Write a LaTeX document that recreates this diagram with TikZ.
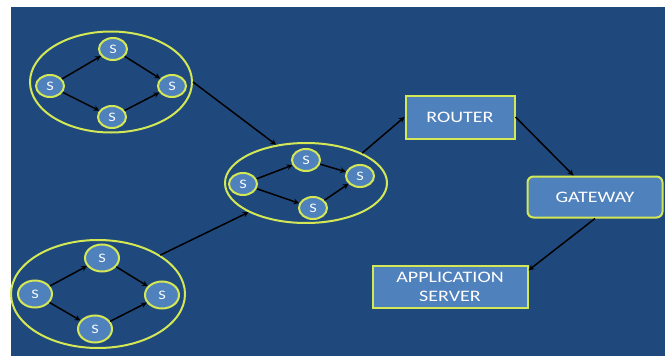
\documentclass[tikz,border=0pt]{standalone}
\usepackage{fontspec}
\setmainfont{Carlito}
\usepackage{graphicx}
\usetikzlibrary{shapes.geometric}
\definecolor{slidebg}{RGB}{31,73,125}
\definecolor{boxfill}{RGB}{79,129,189}
\definecolor{rim}{RGB}{212,232,86}
\newcommand{\wtext}[1]{\scalebox{1.25}[1]{#1}}
\tikzset{
  cluster/.style={ellipse,draw=rim,line width=2pt,inner sep=0pt},
  snode/.style={ellipse,draw=rim,fill=boxfill,line width=2pt,inner sep=0pt,
    minimum width=28pt,minimum height=22pt,text=white,font=\fontsize{13}{13}\selectfont},
  bigs/.style={snode,minimum width=34pt,minimum height=27pt},
  unit/.style={rectangle,draw=rim,fill=boxfill,line width=2pt,text=white,
    font=\fontsize{16}{19}\selectfont,align=center,inner sep=0pt},
  link/.style={->,line width=1.5pt,black},
}

\begin{document}
\begin{tikzpicture}[x=1pt,y=-1pt,>=stealth]
        \fill[white] (0,0) rectangle (670,356);
        \fill[slidebg] (11,7) rectangle (665,356);
        \useasboundingbox (0,0) rectangle (670,356);
        % groups of services
        \node[cluster,minimum width=162pt,minimum height=101pt] (topgrp) at (111,82) {};
        \node[cluster,minimum width=162pt,minimum height=80pt] (midgrp) at (306,183) {};
        \node[cluster,minimum width=174pt,minimum height=108pt] (botgrp) at (98,294) {};
        \node[snode] (top-l) at (50,86) {\wtext{S}};
        \node[snode] (top-u) at (113,49) {\wtext{S}};
        \node[snode] (top-r) at (172,86) {\wtext{S}};
        \node[snode] (top-d) at (112,117) {\wtext{S}};
        \node[snode] (mid-l) at (243,184) {\wtext{S}};
        \node[snode] (mid-u) at (306,160) {\wtext{S}};
        \node[snode] (mid-r) at (360,176) {\wtext{S}};
        \node[snode] (mid-d) at (313,208) {\wtext{S}};
        \node[bigs] (bot-l) at (35,294) {\wtext{S}};
        \node[bigs] (bot-u) at (102,258) {\wtext{S}};
        \node[bigs] (bot-r) at (162,295) {\wtext{S}};
        \node[bigs] (bot-d) at (95,329) {\wtext{S}};
        \foreach \g in {top,mid,bot} {
          \draw[link] (\g-l) -- (\g-u);
          \draw[link] (\g-l) -- (\g-d);
          \draw[link] (\g-u) -- (\g-r);
          \draw[link] (\g-d) -- (\g-r);
        }
        % network side
        \node[unit,minimum width=109pt,minimum height=43pt] (router) at (460,117) {\wtext{ROUTER}};
        \node[unit,rounded corners=6pt,minimum width=135pt,minimum height=41pt] (gateway) at (595,197) {\wtext{GATEWAY}};
        \node[unit,minimum width=155pt,minimum height=42pt] (appserver) at (450,287) {\wtext{APPLICATION}\\\wtext{SERVER}};
        \draw[link] (topgrp.east) -- (midgrp.128);
        \draw[link] (botgrp.32) -- (midgrp.207);
        \draw[link] (midgrp.28) -- (router.west);
        \draw[link] (router.east) -- (gateway.135);
        \draw[link] (gateway.south) -- (appserver.12);
\end{tikzpicture}
\end{document}
